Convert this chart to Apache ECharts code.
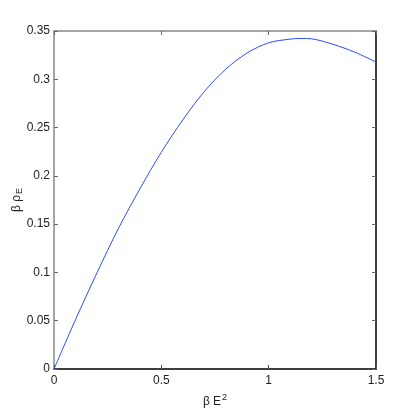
<!DOCTYPE html>
<html>
<head>
<meta charset="utf-8">
<script src="https://cdn.jsdelivr.net/npm/echarts@6/dist/echarts.min.js"></script>
<style>
  html, body { margin: 0; padding: 0; background: #fff; }
  #main { width: 415px; height: 415px; }
</style>
</head>
<body>
<div id="main"></div>
<script>
// values
var betaE2 = [0, 0.1, 0.2, 0.3, 0.4, 0.5, 0.6, 0.7, 0.8, 0.9, 1.0, 1.1, 1.15, 1.2, 1.3, 1.4, 1.5]
var betaRhoE = [0, 0.051, 0.0995, 0.1455, 0.1865, 0.2245, 0.258, 0.2873, 0.3105, 0.3273, 0.3378, 0.3416, 0.3423, 0.3419, 0.3362, 0.3282, 0.3179]
var xTicks = [0, 1.5, 0.5]   // min, max, step
var yTicks = [0, 0.35, 0.05]

var points = betaE2.map(function (x, i) { return [x, betaRhoE[i]] })

var font = '"Liberation Sans Narrow", "Liberation Sans", Arial, sans-serif'
var labelStyle = { color: '#222', fontSize: 12, fontFamily: font }

var chart = echarts.init(document.getElementById('main'))
chart.setOption({
    animation: false,
    grid: { left: 54, top: 31, right: 39, bottom: 46, containLabel: false, outerBoundsMode: 'none' },
    xAxis: [{
        type: 'value',
        min: xTicks[0], max: xTicks[1], interval: xTicks[2],
        position: 'bottom',
        axisLine: { onZero: false, lineStyle: { color: '#000', width: 1.5 } },
        axisTick: { inside: true, length: 4, lineStyle: { color: '#555' } },
        axisLabel: Object.assign({ margin: 6 }, labelStyle),
        splitLine: { show: false },
        name: '{a|β E}{s|2}',
        nameLocation: 'middle',
        nameGap: 24,
        nameMoveOverlap: false,
        nameTextStyle: {
            rich: {
                a: { fontSize: 12, fontFamily: font, color: '#222' },
                s: { fontSize: 9, fontFamily: font, color: '#222', verticalAlign: 'top', padding: [0, 0, 8, 1] }
            }
        }
    }, {
        type: 'value',
        min: xTicks[0], max: xTicks[1], interval: xTicks[2],
        position: 'top',
        axisLine: { onZero: false, lineStyle: { color: '#888', width: 1.5 } },
        axisTick: { inside: true, length: 4, lineStyle: { color: '#666' } },
        axisLabel: { show: false },
        splitLine: { show: false }
    }],
    yAxis: [{
        type: 'value',
        min: yTicks[0], max: yTicks[1], interval: yTicks[2],
        position: 'left',
        axisLine: { onZero: false, lineStyle: { color: '#888', width: 1.5 } },
        axisTick: { inside: true, length: 4, lineStyle: { color: '#666' } },
        axisLabel: Object.assign({ margin: 4 }, labelStyle),
        splitLine: { show: false },
        name: '{a|β ρ}{s|E}',
        nameLocation: 'middle',
        nameGap: 30,
        nameMoveOverlap: false,
        nameRotate: 90,
        nameTextStyle: {
            rich: {
                a: { fontSize: 12, fontFamily: font, color: '#222' },
                s: { fontSize: 9, fontFamily: font, color: '#222', padding: [6, 0, 0, 1] }
            }
        }
    }, {
        type: 'value',
        min: yTicks[0], max: yTicks[1], interval: yTicks[2],
        position: 'right',
        axisLine: { onZero: false, lineStyle: { color: '#000', width: 1.5 } },
        axisTick: { inside: true, length: 4, lineStyle: { color: '#666' } },
        axisLabel: { show: false },
        splitLine: { show: false }
    }],
    series: [{
        type: 'line',
        data: points,
        smooth: 0.3,
        showSymbol: false,
        lineStyle: { color: '#2b4cff', width: 1 }
    }]
})
</script>
</body>
</html>
